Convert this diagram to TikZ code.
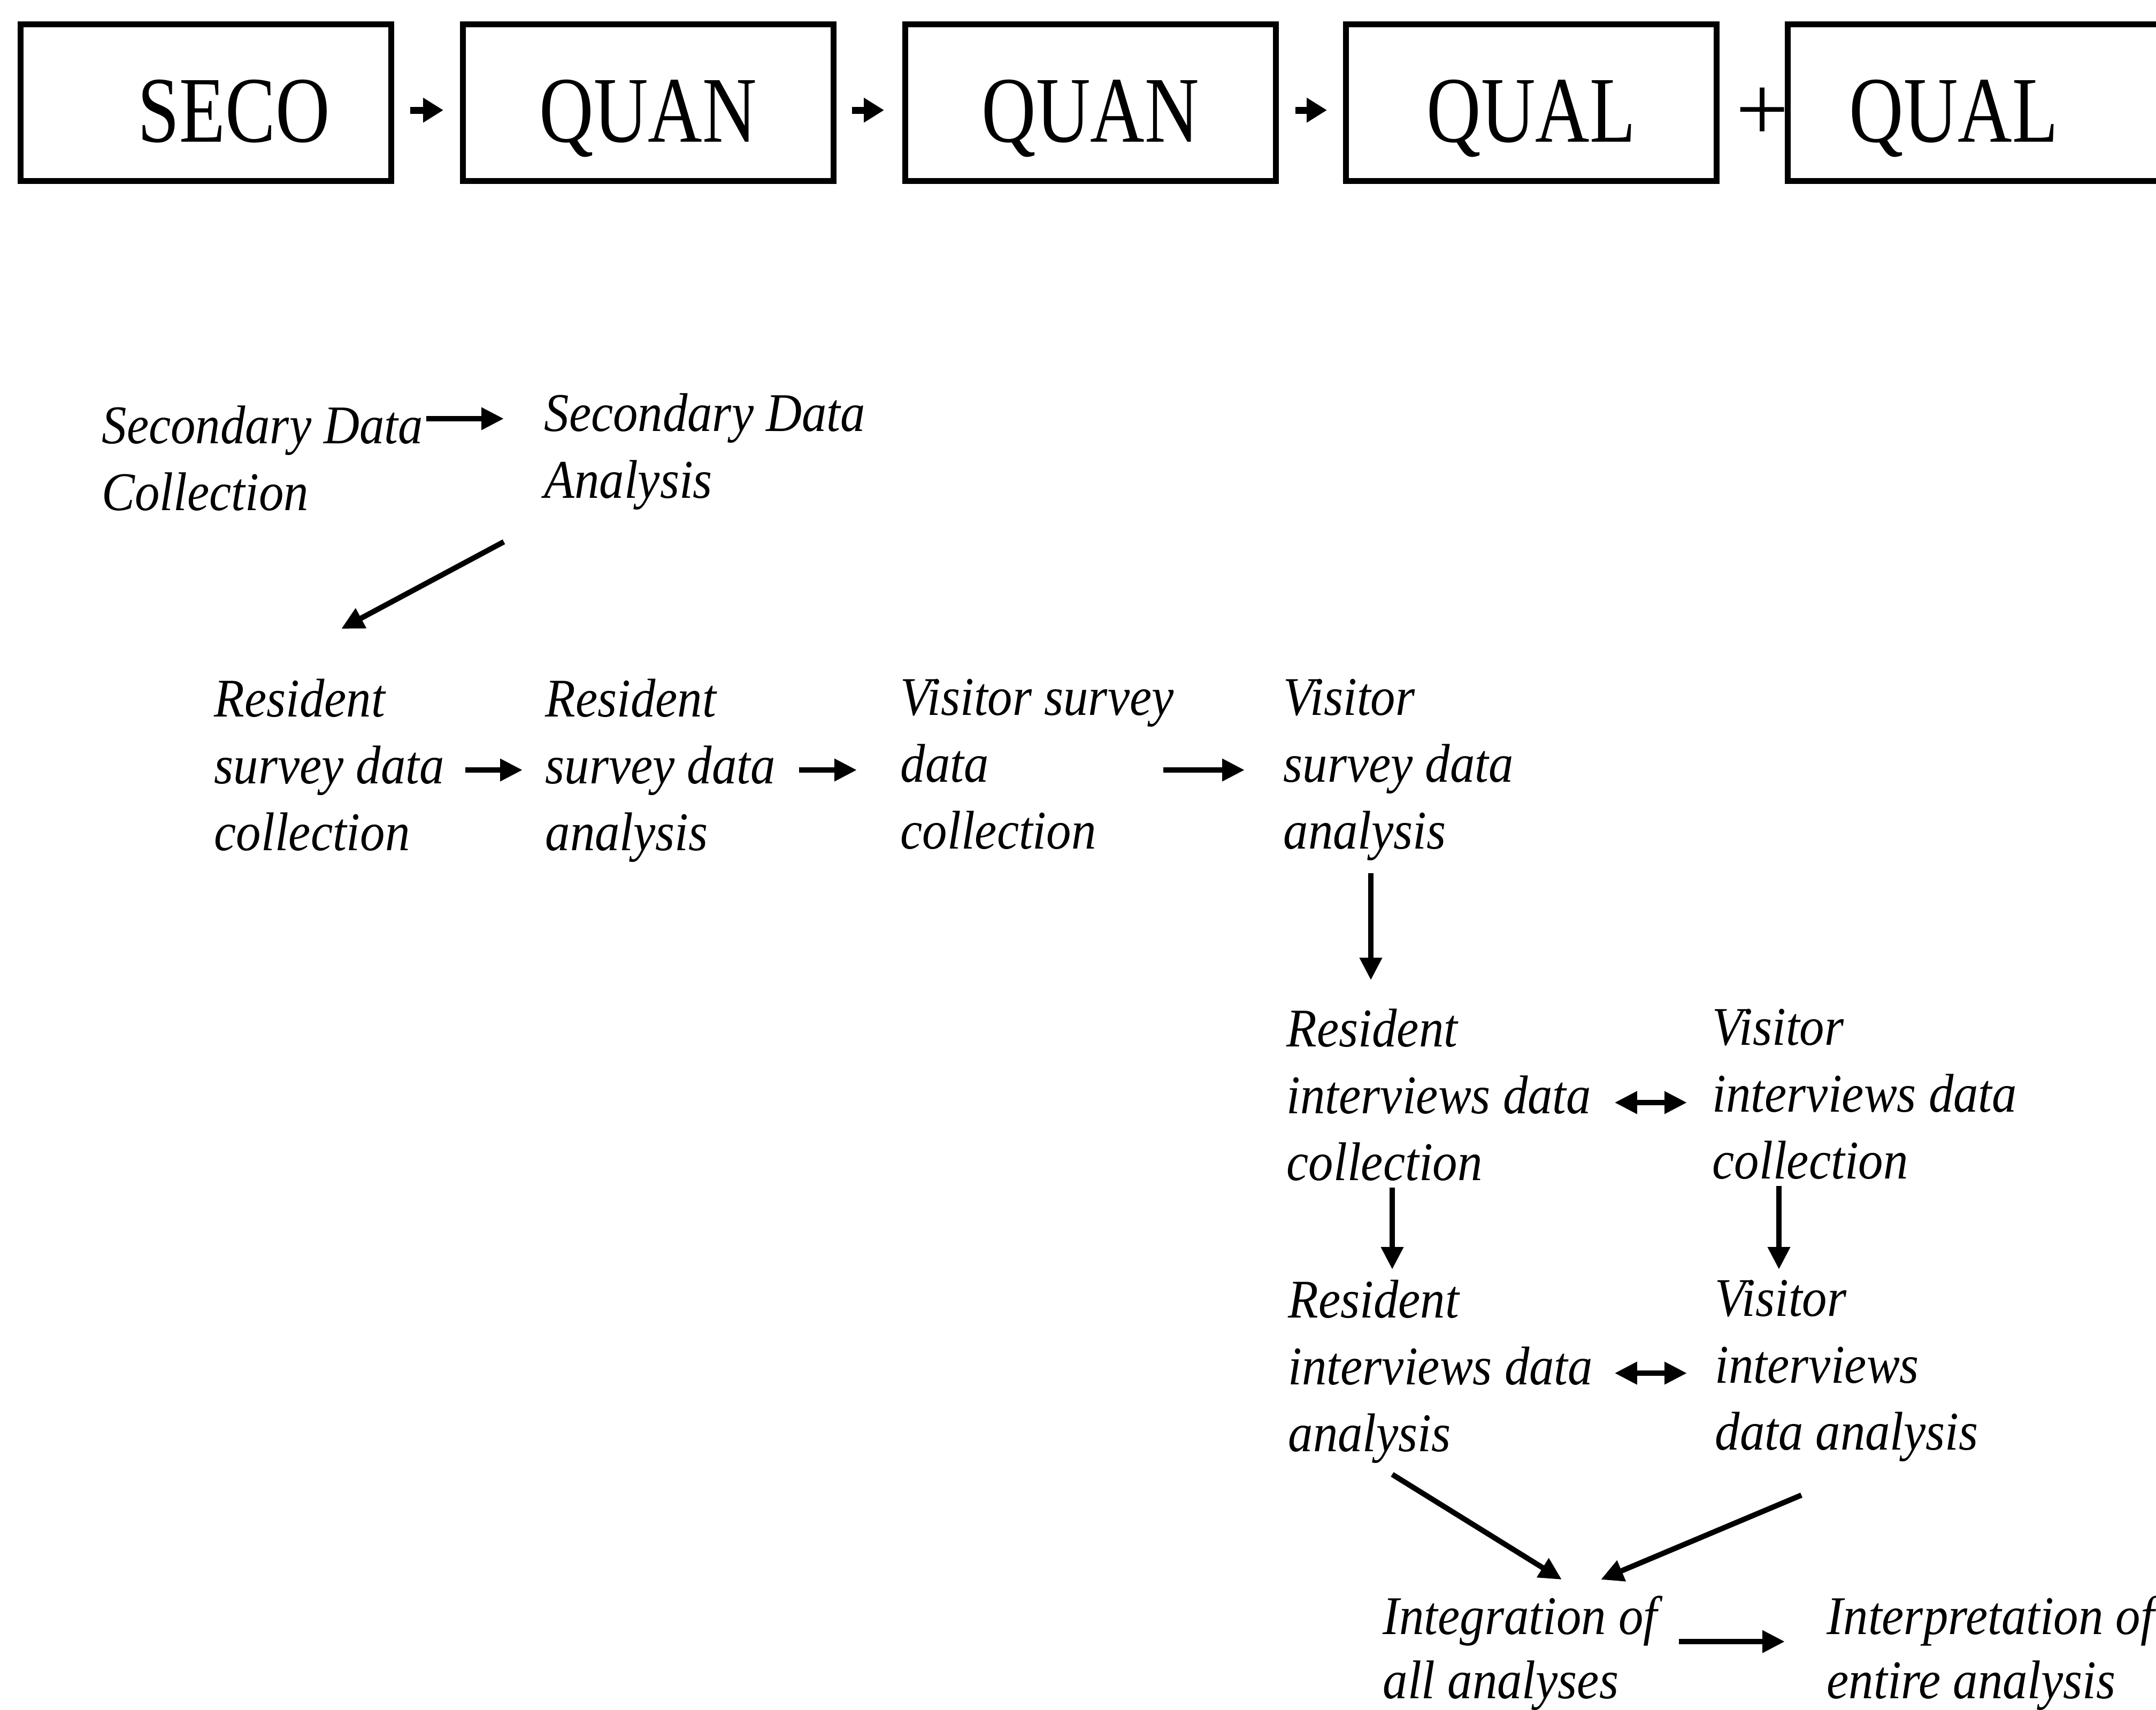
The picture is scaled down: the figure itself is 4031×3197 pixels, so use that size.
\documentclass[tikz,border=0pt]{standalone}
\usepackage{fontspec}
\setmainfont{Liberation Serif}
\newfontfamily\boxfont{Liberation Serif}[FakeStretch=0.8]
\newfontfamily\stepfont{Liberation Serif}[FakeStretch=0.91]
\usetikzlibrary{arrows.meta,calc}

\begin{document}
\begin{tikzpicture}[
    x=0.1mm,y=-0.1mm,
    phase/.style={draw,line width=1.1mm,minimum width=69.3mm,minimum height=29.3mm,
      inner sep=0pt,text height=18mm,text depth=3.4mm,
      font=\boxfont\fontsize{50}{60}\selectfont},
    task/.style={anchor=north west,inner sep=0pt,align=left,
      font=\stepfont\itshape\fontsize{29}{35.6}\selectfont},
    lasttask/.style={task,font=\stepfont\itshape\fontsize{29}{34.1}\selectfont},
    link/.style={-{Triangle[length=3.8mm,width=4.4mm]},line width=1.3mm},
    arrow/.style={-{Triangle[length=4.2mm,width=4mm]},line width=1mm},
    twoway/.style={{Triangle[length=4.2mm,width=4mm]}-{Triangle[length=4.2mm,width=4mm]},
      line width=1mm}
  ]
    \useasboundingbox (0,0) rectangle (4031,3197);
    \clip (0,0) rectangle (4031,3197);

    \node[phase] (seco) at (385,192) {\hspace*{10.4mm}SECO};
    \node[phase] (quan1) at (1212,192) {QUAN};
    \node[phase] (quan2) at (2039,192) {QUAN};
    \node[phase] (qual1) at (2863,192) {QUAL};
    \node[phase,minimum width=69.8mm] (qual2) at (3691,192) {\hspace*{-7.6mm}QUAL};
    \node[font=\fontsize{50}{60}\selectfont,inner sep=0pt] (plus) at (3295,214) {+};
    \draw[link] ($(seco.east)+(30,14)$) -- ($(quan1.west)+(-31,14)$);
    \draw[link] ($(quan1.east)+(29,14)$) -- ($(quan2.west)+(-34,14)$);
    \draw[link] ($(quan2.east)+(31,14)$) -- ($(qual1.west)+(-30,14)$);

    \node[task] (secocoll) at (190,758) {Secondary Data\\Collection};
    \node[task] (secoanal) at (1017,735) {Secondary Data\\Analysis};
    \node[task] (rescoll) at (400,1269) {Resident\\survey data\\collection};
    \node[task] (resanal) at (1019,1269) {Resident\\survey data\\analysis};
    \node[task] (viscoll) at (1683,1269) {Visitor survey\\data\\collection};
    \node[task] (visanal) at (2399,1269) {Visitor\\survey data\\analysis};
    \node[task] (resintcoll) at (2405,1886) {Resident\\interviews data\\collection};
    \node[task] (visintcoll) at (3201,1886) {Visitor\\interviews data\\collection};
    \node[task] (resintanal) at (2408,2393) {Resident\\interviews data\\analysis};
    \node[task] (visintanal) at (3206,2393) {Visitor\\interviews\\data analysis};
    \node[lasttask] (integ) at (2585,2984) {Integration of\\all analyses};
    \node[lasttask] (interp) at (3415,2984) {Interpretation of\\entire analysis};

    \draw[arrow] ($(secocoll.north east)+(5,25)$) -- ($(secoanal.north west)+(-75,48)$);
    \draw[arrow] ($(secoanal.south west)+(-75,59)$) -- ($(rescoll.north west)+(238,-93)$);
    \draw[arrow] ($(rescoll.north east)+(38,171)$) -- ($(resanal.north west)+(-42,171)$);
    \draw[arrow] ($(resanal.north east)+(43,171)$) -- ($(viscoll.north west)+(-81,171)$);
    \draw[arrow] ($(viscoll.north east)+(-20,171)$) -- ($(visanal.north west)+(-72,171)$);
    \draw[arrow] ($(visanal.south west)+(164,23)$) -- ($(resintcoll.north west)+(158,-53)$);
    \draw[twoway] ($(resintcoll.north east)+(43,176)$) -- ($(visintcoll.north west)+(-47,176)$);
    \draw[arrow] ($(resintcoll.south west)+(198,12)$) -- ($(resintanal.north west)+(195,-19)$);
    \draw[arrow] ($(visintcoll.south west)+(125,12)$) -- ($(visintanal.north west)+(120,-19)$);
    \draw[twoway] ($(resintanal.north east)+(40,175)$) -- ($(visintanal.north west)+(-52,175)$);
    \draw[arrow] ($(resintanal.south west)+(195,20)$) -- ($(integ.north west)+(335,-30)$);
    \draw[arrow] ($(visintanal.south west)+(162,62)$) -- ($(integ.north west)+(408,-30)$);
    \draw[arrow] ($(integ.north east)+(40,86)$) -- ($(interp.north west)+(-78,86)$);
  \end{tikzpicture}
\end{document}
